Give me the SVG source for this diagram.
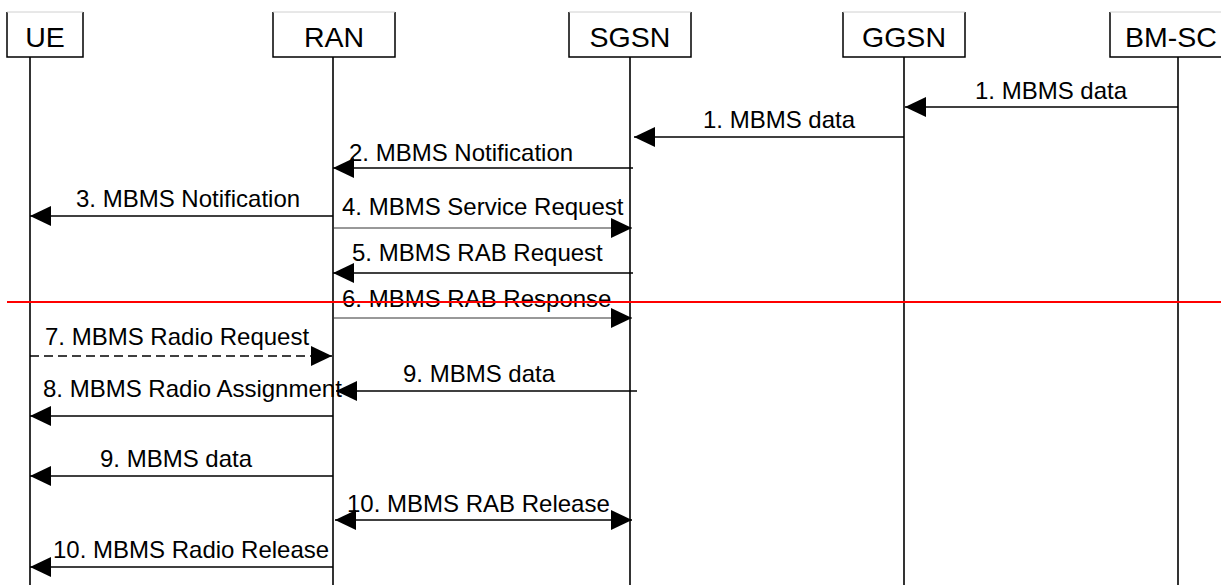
<svg xmlns="http://www.w3.org/2000/svg" width="1221" height="585" viewBox="0 0 1221 585">
<style>
.box{fill:#fff;stroke:#000;stroke-width:1.5}
.top{stroke:#d0d0d0;stroke-width:1}
.name{font-family:"Liberation Sans",Arial,sans-serif;font-size:28.5px;text-anchor:middle;fill:#000}
.life{stroke:#000;stroke-width:1.6}
.msg{stroke:#000;stroke-width:1.4;fill:none}
.thin{stroke:#333;stroke-width:1}
.dash{stroke-dasharray:9,5}
.lbl{font-family:"Liberation Sans",Arial,sans-serif;font-size:24px;fill:#000}
</style>
<defs>
<marker id="ah" markerUnits="userSpaceOnUse" markerWidth="21" markerHeight="20" refX="21" refY="10" orient="auto-start-reverse" viewBox="0 0 21 20">
<path d="M0,0 L21,10 L0,20 z" fill="#000"/>
</marker>
</defs>
<g id="UE">
<path class="box" d="M7,12 V57 H83 V12"/><line class="top" x1="7" y1="12" x2="83" y2="12"/>
<text class="name" x="45" y="47">UE</text>
<line class="life" x1="30" y1="57" x2="30" y2="585"/>
</g>
<g id="RAN">
<path class="box" d="M273,12 V57 H395 V12"/><line class="top" x1="273" y1="12" x2="395" y2="12"/>
<text class="name" x="334" y="47">RAN</text>
<line class="life" x1="333" y1="57" x2="333" y2="585"/>
</g>
<g id="SGSN">
<path class="box" d="M569,12 V57 H691 V12"/><line class="top" x1="569" y1="12" x2="691" y2="12"/>
<text class="name" x="630" y="47">SGSN</text>
<line class="life" x1="630" y1="57" x2="630" y2="585"/>
</g>
<g id="GGSN">
<path class="box" d="M843,12 V57 H965 V12"/><line class="top" x1="843" y1="12" x2="965" y2="12"/>
<text class="name" x="904" y="47">GGSN</text>
<line class="life" x1="904" y1="57" x2="904" y2="585"/>
</g>
<g id="BM-SC">
<path class="box" d="M1110,12 V57 H1232 V12"/><line class="top" x1="1110" y1="12" x2="1232" y2="12"/>
<text class="name" x="1171" y="47">BM-SC</text>
<line class="life" x1="1178" y1="57" x2="1178" y2="585"/>
</g>
<g id="connectors">
<line class="msg" x1="1178" y1="107" x2="905" y2="107" marker-end="url(#ah)"/>
<text class="lbl" x="975" y="99">1. MBMS data</text>
<line class="msg" x1="904" y1="137" x2="634" y2="137" marker-end="url(#ah)"/>
<text class="lbl" x="703" y="128">1. MBMS data</text>
<line class="msg" x1="633" y1="168" x2="333" y2="168" marker-end="url(#ah)"/>
<text class="lbl" x="349" y="161">2. MBMS Notification</text>
<line class="msg" x1="333" y1="216" x2="30" y2="216" marker-end="url(#ah)"/>
<text class="lbl" x="76" y="207">3. MBMS Notification</text>
<line class="msg thin" x1="333" y1="228" x2="632" y2="228" marker-end="url(#ah)"/>
<text class="lbl" x="342" y="215">4. MBMS Service Request</text>
<line class="msg" x1="633" y1="273" x2="333" y2="273" marker-end="url(#ah)"/>
<text class="lbl" x="352" y="261">5. MBMS RAB Request</text>
<line class="msg thin" x1="333" y1="318" x2="632" y2="318" marker-end="url(#ah)"/>
<text class="lbl" x="342" y="307">6. MBMS RAB Response</text>
<line class="msg dash" x1="30" y1="356" x2="332" y2="356" marker-end="url(#ah)"/>
<text class="lbl" x="45" y="345">7. MBMS Radio Request</text>
<line class="msg" x1="637" y1="391" x2="336" y2="391" marker-end="url(#ah)"/>
<text class="lbl" x="403" y="382">9. MBMS data</text>
<line class="msg" x1="333" y1="416" x2="30" y2="416" marker-end="url(#ah)"/>
<text class="lbl" x="43" y="397">8. MBMS Radio Assignment</text>
<line class="msg" x1="333" y1="476" x2="30" y2="476" marker-end="url(#ah)"/>
<text class="lbl" x="100" y="467">9. MBMS data</text>
<line class="msg" x1="335" y1="520" x2="632" y2="520" marker-start="url(#ah)" marker-end="url(#ah)"/>
<text class="lbl" x="347" y="512">10. MBMS RAB Release</text>
<line class="msg" x1="333" y1="567" x2="30" y2="567" marker-end="url(#ah)"/>
<text class="lbl" x="53" y="558">10. MBMS Radio Release</text>
</g>
<line x1="7" y1="302" x2="1221" y2="302" stroke="#f00" stroke-width="2"/>
</svg>
